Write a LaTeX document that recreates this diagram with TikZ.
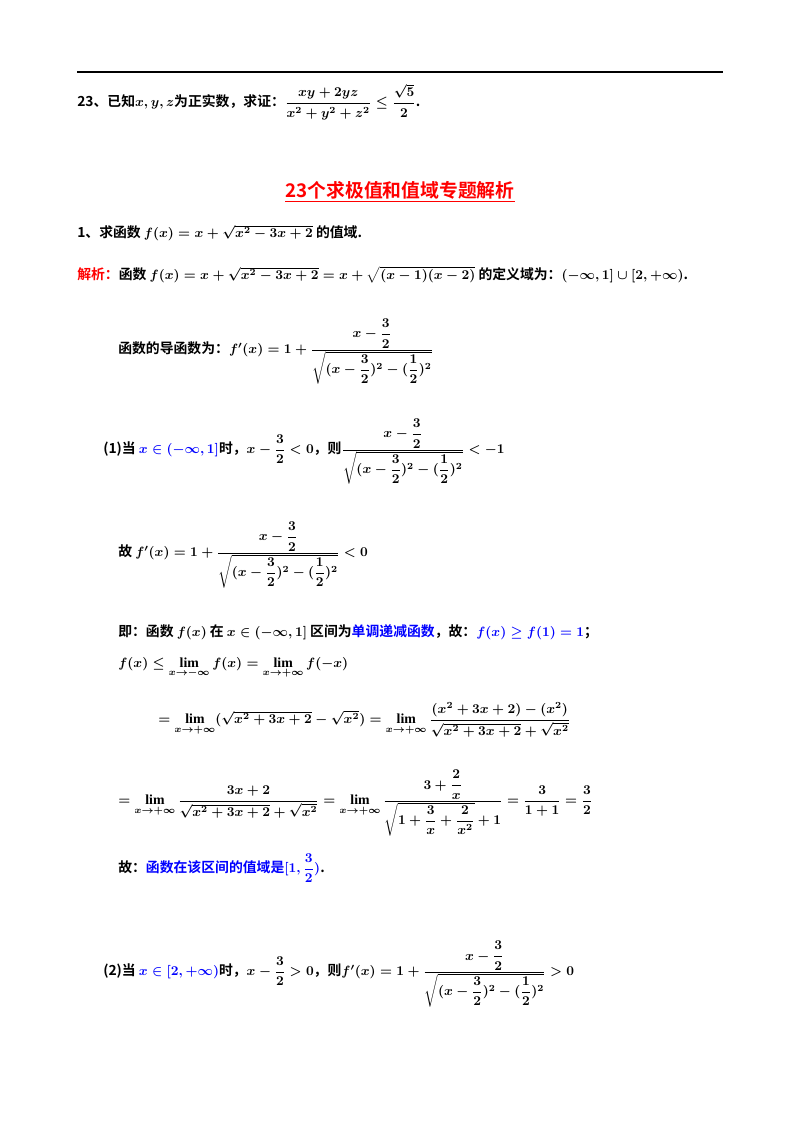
\documentclass[tikz,border=0pt]{standalone}
\usepackage{amsmath}
\usepackage{fontspec}
\setmainfont{Liberation Serif}
\newfontfamily\cjk{Noto Sans CJK SC}[BoldFont={Noto Sans CJK SC Bold}]
\begin{document}
\begin{tikzpicture}[x=0.744pt,y=-0.744pt,
  t/.style={anchor=west,inner sep=0pt,font=\cjk\bfseries\boldmath\fontsize{10.3}{12}\selectfont}]
\useasboundingbox (0,0) rectangle (800,1132);
\draw[line width=0.8pt] (77,72) coordinate(r1) -- (723,72) coordinate(r2);
\node[t] (q23) at (77,102) {23、已知$x,y,z$为正实数，求证：$\dfrac{xy+2yz}{x^2+y^2+z^2}\le\dfrac{\sqrt5}{2}$.};
\node[anchor=center,inner sep=0pt,text=red,font=\cjk\bfseries\fontsize{14}{16}\selectfont] (title) at (400,192) {\underline{23个求极值和值域专题解析}};
\node[t] (p1) at (77,233) {1、求函数 $f(x)=x+\sqrt{x^2-3x+2}$ 的值域.};
\node[t] (p2) at (77,275) {\textcolor{red}{解析：}函数 $f(x)=x+\sqrt{x^2-3x+2}=x+\sqrt{(x-1)(x-2)}$ 的定义域为：$(-\infty,1]\cup[2,+\infty)$.};
\node[t] (p3) at (118,352) {函数的导函数为：$f'(x)=1+\dfrac{x-\dfrac32}{\sqrt{(x-\dfrac32)^2-(\dfrac12)^2}}$};
\node[t] (p4) at (103,452) {(1)当 \textcolor{blue}{$x\in(-\infty,1]$}时，$x-\dfrac32<0$，则$\dfrac{x-\dfrac32}{\sqrt{(x-\dfrac32)^2-(\dfrac12)^2}}<-1$};
\node[t] (p5) at (118,555) {故 $f'(x)=1+\dfrac{x-\dfrac32}{\sqrt{(x-\dfrac32)^2-(\dfrac12)^2}}<0$};
\node[t] (p6) at (118,632) {即：函数 $f(x)$ 在 $x\in(-\infty,1]$ 区间为\textcolor{blue}{单调递减函数}，故：\textcolor{blue}{$f(x)\ge f(1)=1$}；};
\node[t] (p7) at (118,668) {$f(x)\le\lim\limits_{x\to-\infty}f(x)=\lim\limits_{x\to+\infty}f(-x)$};
\node[t] (p8) at (158,720) {$=\lim\limits_{x\to+\infty}(\sqrt{x^2+3x+2}-\sqrt{x^2})=\lim\limits_{x\to+\infty}\dfrac{(x^2+3x+2)-(x^2)}{\sqrt{x^2+3x+2}+\sqrt{x^2}}$};
\node[t] (p9) at (118,803) {$=\lim\limits_{x\to+\infty}\dfrac{3x+2}{\sqrt{x^2+3x+2}+\sqrt{x^2}}=\lim\limits_{x\to+\infty}\dfrac{3+\dfrac2x}{\sqrt{1+\dfrac3x+\dfrac2{x^2}}+1}=\dfrac3{1+1}=\dfrac32$};
\node[t] (p10) at (118,868) {故：\textcolor{blue}{函数在该区间的值域是$[1,\dfrac32)$}.};
\node[t] (p11) at (103,974) {(2)当 \textcolor{blue}{$x\in[2,+\infty)$}时，$x-\dfrac32>0$，则$f'(x)=1+\dfrac{x-\dfrac32}{\sqrt{(x-\dfrac32)^2-(\dfrac12)^2}}>0$};
\end{tikzpicture}
\end{document}
